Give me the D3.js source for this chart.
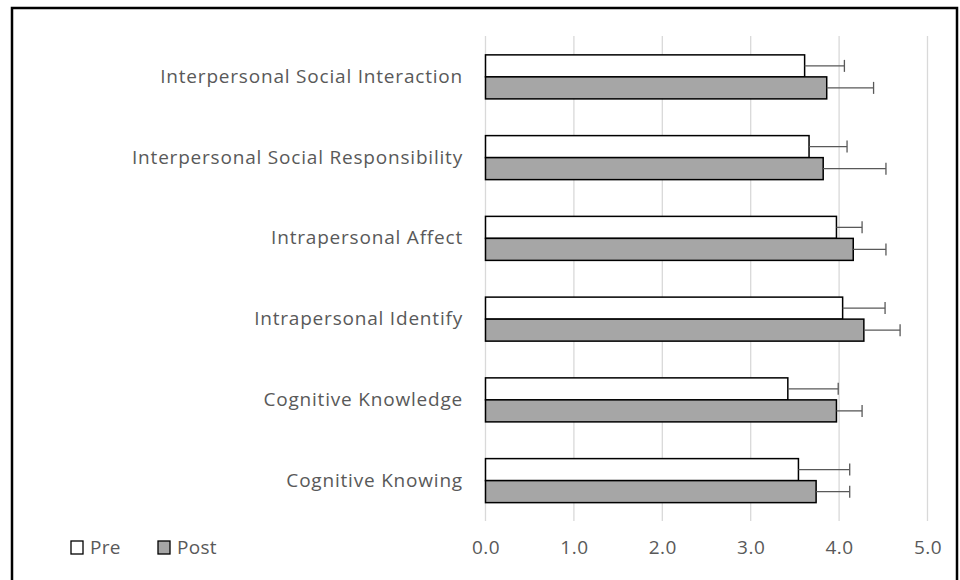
<!DOCTYPE html>
<html><head><meta charset="utf-8">
<script src="https://cdn.jsdelivr.net/npm/d3@7"></script>
<style>body{margin:0;background:#fff;} svg{display:block;font-family:"Open Sans",sans-serif;}</style>
</head><body><svg id="c" width="960" height="580"></svg>
<script>
const categories = ["Interpersonal Social Interaction","Interpersonal Social Responsibility","Intrapersonal Affect","Intrapersonal Identify","Cognitive Knowledge","Cognitive Knowing"];
const preValues  = [3.61, 3.66, 3.97, 4.04, 3.42, 3.54];
const preErrors  = [0.45, 0.43, 0.29, 0.48, 0.57, 0.58];
const postValues = [3.86, 3.82, 4.16, 4.28, 3.97, 3.74];
const postErrors = [0.53, 0.71, 0.37, 0.41, 0.29, 0.38];
const tickValues = [0, 1, 2, 3, 4, 5];
const seriesNames = ["Pre", "Post"];

const svg = d3.select("#c");
// outer frame
svg.append("rect").attr("x",12).attr("y",8).attr("width",945).attr("height",590)
  .attr("fill","none").attr("stroke","#000").attr("stroke-width",2.5);

const x = d3.scaleLinear().domain([0,5]).range([485.5, 927.5]);
const y = d3.scaleBand().domain(categories).range([36.5, 521]).paddingInner(0.455).paddingOuter(0.2275);
const sub = d3.scaleBand().domain(seriesNames).range([0, y.bandwidth()]);

// grid
svg.append("g").selectAll("line").data(tickValues).join("line")
  .attr("x1",d=>x(d)).attr("x2",d=>x(d)).attr("y1",36).attr("y2",521)
  .attr("stroke","#d9d9d9").attr("stroke-width",1.3);

// axis labels
const xAxis = d3.axisBottom(x).tickValues(tickValues).tickFormat(d3.format(".1f")).tickSize(0).tickPadding(0);
const gx = svg.append("g").attr("transform","translate(0,547)").call(xAxis);
gx.select(".domain").remove();
gx.selectAll("text").attr("fill","#595959").attr("font-size","19px").attr("dy","0.35em")
  .attr("letter-spacing","0.5px").attr("font-family","'Open Sans',sans-serif");

const yAxis = d3.axisLeft(y).tickSize(0).tickPadding(0);
const gy = svg.append("g").attr("transform","translate(463,0)").call(yAxis);
gy.select(".domain").remove();
gy.selectAll("text").attr("fill","#595959").attr("font-size","19px")
  .attr("letter-spacing","0.8px").attr("font-family","'Open Sans',sans-serif");

const series = [
  {name:"Pre", values:preValues, errors:preErrors, fill:"#ffffff"},
  {name:"Post", values:postValues, errors:postErrors, fill:"#a6a6a6"}
];

series.forEach(s => {
  const g = svg.append("g");
  const data = categories.map((c,i)=>({c, v:s.values[i], e:s.errors[i]}));
  g.selectAll("rect").data(data).join("rect")
    .attr("x", x(0)).attr("y", d=>y(d.c)+sub(s.name))
    .attr("width", d=>x(d.v)-x(0)).attr("height", sub.bandwidth())
    .attr("fill", s.fill).attr("stroke","#000").attr("stroke-width",1.5);
  // error bars
  g.selectAll("line.err").data(data).join("line").attr("class","err")
    .attr("x1", d=>x(d.v)).attr("x2", d=>x(d.v+d.e))
    .attr("y1", d=>y(d.c)+sub(s.name)+sub.bandwidth()/2)
    .attr("y2", d=>y(d.c)+sub(s.name)+sub.bandwidth()/2)
    .attr("stroke","#595959").attr("stroke-width",1.3);
  g.selectAll("line.cap").data(data).join("line").attr("class","cap")
    .attr("x1", d=>x(d.v+d.e)).attr("x2", d=>x(d.v+d.e))
    .attr("y1", d=>y(d.c)+sub(s.name)+sub.bandwidth()/2-6)
    .attr("y2", d=>y(d.c)+sub(s.name)+sub.bandwidth()/2+6)
    .attr("stroke","#595959").attr("stroke-width",1.3);
});

// legend
const legX = [71, 158];
const lg = svg.append("g");
series.forEach((s,i)=>{
  lg.append("rect").attr("x",legX[i]).attr("y",541).attr("width",12).attr("height",13)
    .attr("fill",s.fill).attr("stroke","#000").attr("stroke-width",1.3);
  lg.append("text").attr("x",legX[i]+19).attr("y",547.5).attr("dy","0.35em")
    .attr("fill","#595959").attr("font-size","19px").attr("letter-spacing","0.3px").text(s.name);
});
</script></body></html>
